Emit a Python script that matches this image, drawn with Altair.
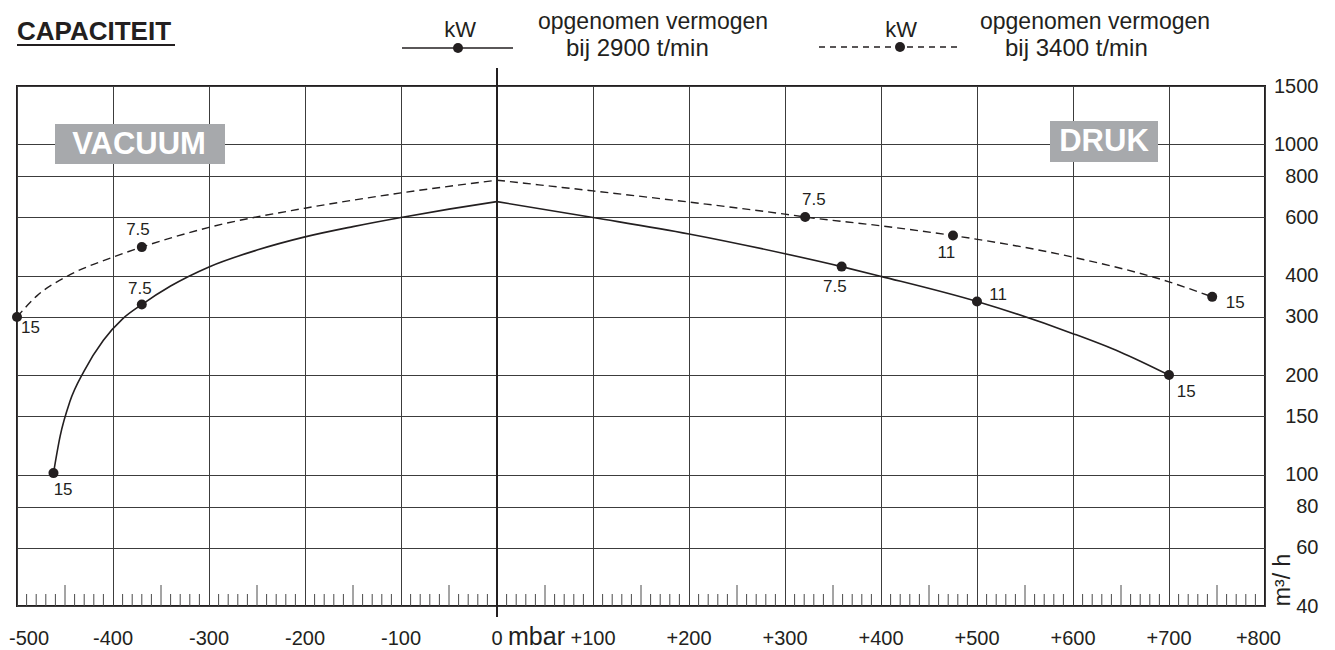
import altair as alt
import pandas as pd

FONT = "Liberation Sans"
INK = "#231f20"
GRID = "#3c3c3c"
TICK = "#4a4a4a"
BOX = "#a7a9ac"

W, H = 1248, 520

# ---- curves (mbar, m3/h) ----
solid_left_x = [-462, -455, -445, -430, -410, -390, -370, -340, -300, -250, -200, -150, -100, -50, 0]
solid_left_y = [101, 131, 166, 206, 255, 296, 327, 372, 425, 478, 524, 563, 600, 636, 670]
solid_right_x = [0, 100, 200, 300, 359, 400, 500, 600, 649, 700]
solid_right_y = [670, 600, 535, 466, 426, 398, 334, 267, 235, 200]
dash_left_x = [-500, -479, -448, -400, -370, -300, -200, -100, 0]
dash_left_y = [300, 348, 398, 455, 488, 560, 640, 712, 778]
dash_right_x = [0, 100, 200, 300, 321, 400, 475, 600, 700, 745]
dash_right_y = [778, 722, 668, 614, 602, 566, 529, 455, 383, 345]

# ---- marked points with motor power (kW) ----
solid_pt_x = [-462, -370, 359, 500, 700]
solid_pt_y = [101, 327, 426, 334, 200]
solid_pt_kw = ["15", "7.5", "7.5", "11", "15"]
solid_lbl_x = [-452, -372, 352, 522, 718]
solid_lbl_y = [89.5, 365, 370, 349, 178]

dash_pt_x = [-500, -370, 321, 475, 745]
dash_pt_y = [300, 488, 602, 529, 345]
dash_pt_kw = ["15", "7.5", "7.5", "11", "15"]
dash_lbl_x = [-486, -374, 330, 468, 769]
dash_lbl_y = [277, 548, 676, 470, 331]

# ---- axes ----
x_ticks = [-500, -400, -300, -200, -100, 0, 100, 200, 300, 400, 500, 600, 700, 800]
x_tick_labels = ["-500", "-400", "-300", "-200", "-100", "0", "+100", "+200",
                 "+300", "+400", "+500", "+600", "+700", "+800"]
y_ticks = [40, 60, 80, 100, 150, 200, 300, 400, 600, 800, 1000, 1500]
minor_ticks = [v for v in range(-490, 800, 10) if v % 50 != 0]
mid_ticks = [v for v in range(-450, 800, 100)]

x_scale = alt.Scale(domain=[-500, 800], nice=False, zero=False)
y_scale = alt.Scale(type="log", domain=[40, 1500], nice=False)

x_axis = alt.Axis(
    values=x_ticks, grid=True, gridColor=GRID, gridWidth=1, domain=False,
    ticks=False, tickSize=0, labels=False, title=None,
)
y_axis = alt.Axis(
    orient="right", values=y_ticks, grid=True, gridColor=GRID, gridWidth=1,
    domain=False, ticks=False, tickSize=0, labelAlign="right", labelPadding=53,
    labelBaseline="middle", labelExpr="'' + datum.value", labelFont=FONT,
    labelFontSize=20, labelColor=INK, labelOverlap=False, title=None,
)

rows = []
for seg, xs, ys in [("sl", solid_left_x, solid_left_y), ("sr", solid_right_x, solid_right_y)]:
    for a, b in zip(xs, ys):
        rows.append({"x": a, "y": b, "seg": seg})
df_solid = pd.DataFrame(rows)
rows = []
for seg, xs, ys in [("dl", dash_left_x, dash_left_y), ("dr", dash_right_x, dash_right_y)]:
    for a, b in zip(xs, ys):
        rows.append({"x": a, "y": b, "seg": seg})
df_dash = pd.DataFrame(rows)

df_pts = pd.DataFrame({
    "x": solid_pt_x + dash_pt_x,
    "y": solid_pt_y + dash_pt_y,
    "kw": solid_pt_kw + dash_pt_kw,
    "lx": solid_lbl_x + dash_lbl_x,
    "ly": solid_lbl_y + dash_lbl_y,
})

df_xl = pd.DataFrame({"x": x_ticks, "t": x_tick_labels})

one = alt.Data(values=[{"a": 0}])

base_solid = alt.Chart(df_solid).mark_line(
    interpolate="monotone", color=INK, strokeWidth=1.6
).encode(
    x=alt.X("x:Q", scale=x_scale, axis=x_axis),
    y=alt.Y("y:Q", scale=y_scale, axis=y_axis),
    detail="seg:N",
)
dashed = alt.Chart(df_dash).mark_line(
    interpolate="monotone", color=INK, strokeWidth=1.4, strokeDash=[8, 5]
).encode(x=alt.X("x:Q", title=None), y=alt.Y("y:Q", title=None), detail="seg:N")

minor = alt.Chart(pd.DataFrame({"x": minor_ticks})).mark_rule(
    color=TICK, strokeWidth=1
).encode(x=alt.X("x:Q", title=None), y=alt.value(H), y2=alt.value(H - 12))
mid = alt.Chart(pd.DataFrame({"x": mid_ticks})).mark_rule(
    color=TICK, strokeWidth=1
).encode(x=alt.X("x:Q", title=None), y=alt.value(H), y2=alt.value(H - 21))

center = alt.Chart(one).mark_rule(color=INK, strokeWidth=2).encode(
    x=alt.datum(0), y=alt.value(-18), y2=alt.value(531)
)

points = alt.Chart(df_pts).mark_circle(size=100, color=INK, opacity=1).encode(
    x=alt.X("x:Q", title=None), y=alt.Y("y:Q", title=None)
)
labels = alt.Chart(df_pts).mark_text(
    font=FONT, fontSize=17, color=INK, align="center", baseline="middle"
).encode(x=alt.X("lx:Q", title=None), y=alt.Y("ly:Q", title=None), text="kw:N")

xlab_kw = dict(font=FONT, fontSize=20, color=INK, baseline="alphabetic")
xl_first = alt.Chart(df_xl.iloc[:1]).mark_text(align="left", dx=-8, **xlab_kw).encode(
    x=alt.X("x:Q", title=None), y=alt.value(H + 39), text="t:N")
xl_mid = alt.Chart(df_xl.iloc[1:-1]).mark_text(align="center", **xlab_kw).encode(
    x=alt.X("x:Q", title=None), y=alt.value(H + 39), text="t:N")
xl_last = alt.Chart(df_xl.iloc[-1:]).mark_text(align="right", dx=16, **xlab_kw).encode(
    x=alt.X("x:Q", title=None), y=alt.value(H + 39), text="t:N")


def txt(s, x, y, size, weight="normal", align="left", baseline="middle", color=INK, angle=0):
    return alt.Chart(alt.Data(values=[{"t": s}])).mark_text(
        align=align, baseline=baseline, font=FONT, fontSize=size,
        fontWeight=weight, color=color, angle=angle
    ).encode(x=alt.value(x), y=alt.value(y), text="t:N")


def box(x1, x2, y1, y2):
    return alt.Chart(one).mark_rect(color=BOX).encode(
        x=alt.value(x1), x2=alt.value(x2), y=alt.value(y1), y2=alt.value(y2)
    )


def hline(x1, x2, y, width=1.5, dash=None):
    kw = dict(color=INK, strokeWidth=width)
    if dash:
        kw["strokeDash"] = dash
    return alt.Chart(one).mark_rule(**kw).encode(
        x=alt.value(x1), x2=alt.value(x2), y=alt.value(y)
    )


def dot(x, y):
    return alt.Chart(one).mark_circle(size=100, color=INK, opacity=1).encode(
        x=alt.value(x), y=alt.value(y)
    )


decor = [
    box(38, 208, 38, 78),
    txt("VACUUM", 122, 59, 31, weight="bold", align="center", color="white"),
    box(1033, 1141, 35, 76),
    txt("DRUK", 1087, 56, 31, weight="bold", align="center", color="white"),
    txt("CAPACITEIT", 0, -54, 26, weight="bold"),
    hline(0, 158, -41, width=2),
    txt("kW", 443, -56, 22, align="center"),
    hline(385, 496, -38, width=1.3),
    dot(441, -38),
    txt("opgenomen vermogen", 521, -64, 23),
    txt("bij 2900 t/min", 549, -37, 24),
    txt("kW", 884, -56, 22, align="center"),
    hline(802, 940, -39, width=1.3, dash=[6, 5]),
    dot(883, -39),
    txt("opgenomen vermogen", 963, -64, 23),
    txt("bij 3400 t/min", 988, -37, 24),
    txt("mbar", 491, 559, 25, baseline="alphabetic"),
    txt("m³/ h", 1266, 494, 23, align="center", angle=270),
]

chart = alt.layer(
    base_solid, dashed, minor, mid, center, points, labels,
    xl_first, xl_mid, xl_last, *decor
).properties(
    width=W, height=H,
    autosize=alt.AutoSizeParams(type="none"),
    padding={"left": 9, "top": 78, "right": 62, "bottom": 44},
).configure_view(stroke=INK, strokeWidth=2)

chart.save("out.html", embed_options={"renderer": "svg", "actions": False})
